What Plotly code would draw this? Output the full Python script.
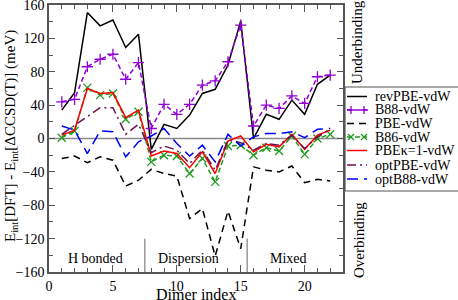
import plotly.graph_objects as go

dimer = list(range(1, 23))

revPBE = [34, 55, 151, 135, 142, 109, 125, -13, 17, 12, 28, 54, 59, 88, 141, 0, 29, 23, 46, 29, 65, 76]
B88 = [44, 47, 86, 95, 101, 71, 91, 12, 41, 29, 41, 64, 69, 92, 136, 15, 40, 36, 51, 42, 74, 76]
PBE = [-24, -21, -29, -22, -26, -57, -50, -37, -42, -45, -96, -84, -141, -87, -132, -34, -38, -40, -33, -53, -49, -51]
B86 = [1, 9, 61, 52, 54, 23, 32, -28, -20, -21, -42, -24, -52, -9, -8, -20, -11, -15, 3, -19, 0, 5]
PBEk1 = [4, 10, 60, 54, 55, 25, 34, -21, -15, -18, -35, -16, -42, -3, 3, -16, -7, -10, 5, -13, 4, 10]
optPBE = [5, 16, 27, 37, 37, 5, 17, -17, -9, -14, -30, -14, -38, -2, -5, -14, -6, -8, 4, -12, 2, 11]
optB88 = [15, 10, -18, 9, 8, -22, -4, 3, 12, -6, -21, -8, -28, 5, -9, 2, 6, 6, 8, 1, 11, 12]

names = ["revPBE-vdW", "B88-vdW", "PBE-vdW", "B86-vdW", "PBE\u03ba=1-vdW", "optPBE-vdW", "optB88-vdW"]
series = [revPBE, B88, PBE, B86, PBEk1, optPBE, optB88]
colors = ["#000000", "#9400D3", "#000000", "#1f9a1f", "#ff0000", "#6b1050", "#0000ff"]
dashes = ["solid", "5px,3px", "7px,5px", "5px,3px", "solid", "9px,4px,2px,4px", "11px,6px"]
markers = [None, "cross-thin", None, "x-thin", None, None, None]

group_labels = ["H bonded", "Dispersion", "Mixed"]
group_x = [3.6, 10.9, 18.7]
separators = [7.5, 15.5]

FONT = "Liberation Serif, Times New Roman, serif"
W, H = 458, 300
L, R, T, B = 49, 115, 5, 28
PW, PH = W - L - R, H - T - B


def pxx(x):
    return (x - L) / PW


def pxy(y):
    return (H - B - y) / PH


fig = go.Figure()
for name, ys, c, d, m in zip(names, series, colors, dashes, markers):
    kw = dict(mode="lines")
    if m:
        kw = dict(mode="lines+markers",
                  marker=dict(symbol=m, size=8, color=c, line=dict(color=c, width=1.3)))
    fig.add_trace(go.Scatter(x=dimer, y=ys, name=name, line=dict(color=c, width=1.5, dash=d),
                             showlegend=False, cliponaxis=True, hoverinfo="skip", **kw))

shapes = []
# zero line
shapes.append(dict(type="line", xref="paper", yref="y", x0=0, x1=1, y0=0, y1=0,
                   line=dict(color="#888888", width=1.5), layer="below"))
for s in separators:
    shapes.append(dict(type="line", xref="x", yref="y", x0=s, x1=s, y0=-160, y1=-120,
                       line=dict(color="#666666", width=1)))

annotations = []
for lab, gx in zip(group_labels, group_x):
    annotations.append(dict(x=gx, y=-144, xref="x", yref="y", text=lab, showarrow=False,
                            xanchor="center", yanchor="middle",
                            font=dict(family=FONT, size=14, color="black")))

# legend (manual, to match compact layout)
shapes.append(dict(type="rect", xref="paper", yref="paper", x0=pxx(345), x1=pxx(470),
                   y0=pxy(191), y1=pxy(87), line=dict(color="#555555", width=1.2),
                   fillcolor="white"))
rows = [96.5, 110, 123.5, 137, 150.5, 165, 179]
for i, (name, c, d, m) in enumerate(zip(names, colors, dashes, markers)):
    ry = rows[i]
    shapes.append(dict(type="line", xref="paper", yref="paper", x0=pxx(347), x1=pxx(367),
                       y0=pxy(ry), y1=pxy(ry), line=dict(color=c, width=1.5, dash=d)))
    if m:
        for cx in (351, 364):
            if m == "cross-thin":
                p = "M %f,%f L %f,%f M %f,%f L %f,%f" % (
                    pxx(cx - 4), pxy(ry), pxx(cx + 4), pxy(ry),
                    pxx(cx), pxy(ry - 4), pxx(cx), pxy(ry + 4))
            else:
                p = "M %f,%f L %f,%f M %f,%f L %f,%f" % (
                    pxx(cx - 3), pxy(ry - 3), pxx(cx + 3), pxy(ry + 3),
                    pxx(cx - 3), pxy(ry + 3), pxx(cx + 3), pxy(ry - 3))
            shapes.append(dict(type="path", xref="paper", yref="paper", path=p,
                               line=dict(color=c, width=1.3)))
    annotations.append(dict(x=pxx(373), y=pxy(ry), xref="paper", yref="paper", text=name,
                            showarrow=False, xanchor="left", yanchor="middle",
                            font=dict(family=FONT, size=14, color="black")))

annotations.append(dict(x=pxx(357), y=pxy(42), xref="paper", yref="paper", text="Underbinding",
                        textangle=-90, showarrow=False, xanchor="center", yanchor="middle",
                        font=dict(family=FONT, size=15, color="black")))
annotations.append(dict(x=pxx(359), y=pxy(240), xref="paper", yref="paper", text="Overbinding",
                        textangle=-90, showarrow=False, xanchor="center", yanchor="middle",
                        font=dict(family=FONT, size=15, color="black")))
annotations.append(dict(x=pxx(11), y=pxy(136), xref="paper", yref="paper",
                        text="E<sub>int</sub>[DFT] - E<sub>int</sub>[\u0394CCSD(T)] (meV)",
                        textangle=-90, showarrow=False, xanchor="center", yanchor="middle",
                        font=dict(family=FONT, size=15, color="black")))
annotations.append(dict(x=0.5, y=pxy(294.5), xref="paper", yref="paper",
                        text="Dimer index", showarrow=False, xanchor="center", yanchor="middle",
                        font=dict(family=FONT, size=16, color="black")))

axcommon = dict(showgrid=False, zeroline=False, showline=True, linecolor="#555555", linewidth=1.5,
                mirror="allticks", ticks="inside", tickcolor="#555555", tickwidth=1,
                automargin=False, ticklabeloverflow="allow",
                tickfont=dict(family=FONT, size=14, color="black"))

fig.update_layout(
    width=W, height=H, margin=dict(l=L, r=R, t=T, b=B, autoexpand=False),
    plot_bgcolor="white", paper_bgcolor="white",
    font=dict(family=FONT, size=14, color="black"),
    showlegend=False,
    xaxis=dict(range=[0, 23], tick0=0, dtick=5, ticklen=7,
               minor=dict(ticks="inside", dtick=1, ticklen=4, tickcolor="#555555", tickwidth=1),
               **axcommon),
    yaxis=dict(range=[-160, 160], tick0=0, dtick=40, ticklen=6,
               minor=dict(ticks="inside", dtick=20, ticklen=4, tickcolor="#555555", tickwidth=1),
               **axcommon),
    shapes=shapes, annotations=annotations,
)

fig.write_html("out.html", config={"displayModeBar": False},
               post_script="document.body.style.margin='0';document.body.style.overflow='hidden';")
